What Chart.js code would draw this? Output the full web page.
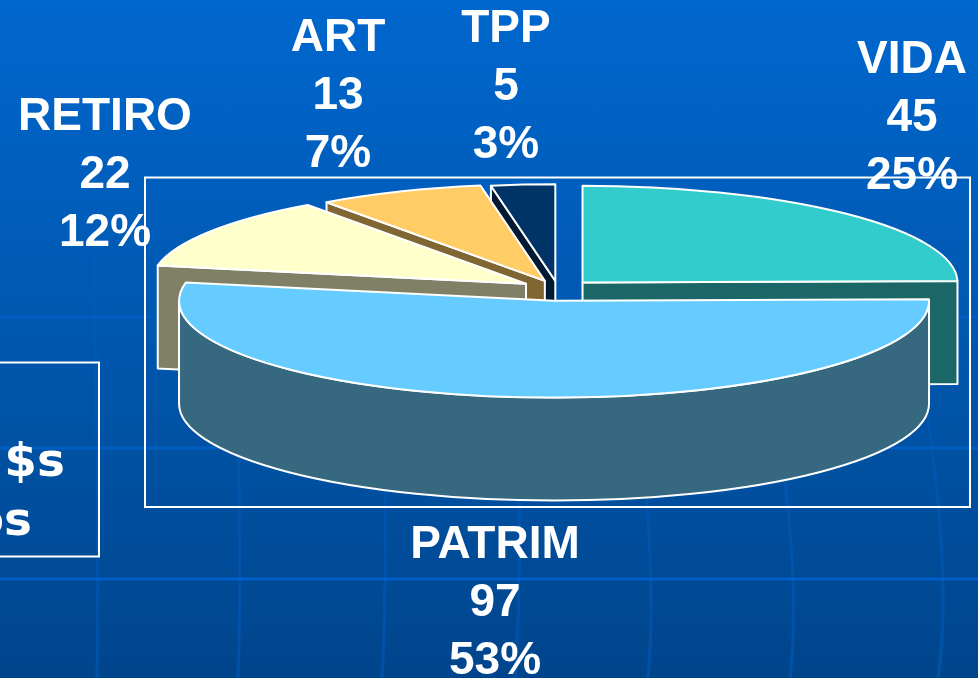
<!DOCTYPE html>
<html>
<head>
<meta charset="utf-8">
<style>
html, body { margin: 0; padding: 0; background: #0058b4; overflow: hidden; }
canvas { display: block; }
</style>
</head>
<body>
<canvas id="pieChart" width="978" height="678"></canvas>
<script src="https://cdn.jsdelivr.net/npm/chart.js@4"></script>
<script>
// datos del grafico
const categories = ['VIDA', 'PATRIM', 'RETIRO', 'ART', 'TPP'];
const values = [45, 97, 22, 13, 5];
const total = values.reduce((a, b) => a + b, 0);

// colores de cada porcion: cara superior y pared
const topColors = ['#33CCCC', '#66CCFF', '#FFFFCC', '#FFCC66', '#003366'];
const wallColors = ['#1B6666', '#366880', '#808066', '#806633', '#001A33'];
const explode = [35, 46, 38, 34, 31]; // separacion de cada porcion

// posicion de las etiquetas: centro x y linea base de la primera linea
const labelX = [912, 495, 105, 338, 506];
const labelY = [73, 558, 130, 51, 42];

const squash = 0.258;
const depth = 103;

const backdrop = {
    id: 'backdrop',
    beforeDraw(chart) {
        const c = chart.ctx;
        const g = c.createLinearGradient(0, 0, 0, 678);
        g.addColorStop(0, '#0067CE');
        g.addColorStop(0.5, '#0057AE');
        g.addColorStop(1, '#00458C');
        c.save();
        c.fillStyle = g;
        c.fillRect(0, 0, 978, 678);

        // lineas de la plantilla
        c.lineWidth = 3;
        c.strokeStyle = 'rgba(0,102,214,0.75)';
        [[187, 0.25], [317, 0.55], [448, 0.8], [579, 1]].forEach(([y, a]) => {
            c.globalAlpha = a;
            c.beginPath();
            c.moveTo(0, y);
            c.lineTo(978, y);
            c.stroke();
        });
        const v = c.createLinearGradient(0, 60, 0, 678);
        v.addColorStop(0, 'rgba(0,102,214,0)');
        v.addColorStop(1, 'rgba(0,102,214,0.38)');
        c.globalAlpha = 1;
        c.strokeStyle = v;
        [[90, 100, 97], [224, 245, 238], [372, 392, 382], [505, 528, 515],
         [585, 665, 648], [700, 812, 790], [850, 965, 938]].forEach(([x0, xm, x1]) => {
            c.beginPath();
            c.moveTo(x0, 40);
            c.quadraticCurveTo(xm, 500, x1, 678);
            c.stroke();
        });
        c.restore();

        // recuadro del grafico y recuadro lateral
        c.save();
        c.strokeStyle = '#fff';
        c.lineWidth = 2;
        c.strokeRect(145, 177.5, 825, 329.5);
        c.strokeRect(-5, 362.5, 104, 194);
        c.restore();
    }
};

function edgePoint(a, cx, cy, r) {
    return [cx + Math.cos(a) * r, cy + Math.sin(a) * r * squash];
}

function drawSlice(c, arc, i) {
    const a = arc.startAngle, b = arc.endAngle, r = arc.outerRadius;
    const mid = (a + b) / 2;
    const cx = arc.x + Math.cos(mid) * explode[i];
    const cy = arc.y + Math.sin(mid) * explode[i] * squash;

    c.lineWidth = 2;
    c.lineJoin = 'round';
    c.strokeStyle = '#fff';

    // paredes rectas que se ven de frente
    c.fillStyle = wallColors[i];
    const faces = [];
    if (Math.cos(a) < -1e-6) faces.push(a);
    if (Math.cos(b) > 1e-6) faces.push(b);
    faces.forEach(t => {
        const [x, y] = edgePoint(t, cx, cy, r);
        c.beginPath();
        c.moveTo(cx, cy);
        c.lineTo(x, y);
        c.lineTo(x, y + depth);
        c.lineTo(cx, cy + depth);
        c.closePath();
        c.fill();
        c.stroke();
    });

    // pared curva, solo la mitad de abajo
    const from = Math.max(a, 0), to = Math.min(b, Math.PI);
    if (from < to) {
        c.beginPath();
        c.ellipse(cx, cy, r, r * squash, 0, from, to);
        c.ellipse(cx, cy + depth, r, r * squash, 0, to, from, true);
        c.closePath();
        c.fill();
        c.stroke();
    }

    // cara superior
    c.fillStyle = topColors[i];
    c.beginPath();
    c.moveTo(cx, cy);
    c.ellipse(cx, cy, r, r * squash, 0, a, b);
    c.closePath();
    c.fill();
    c.stroke();
}

const pie3d = {
    id: 'pie3d',
    beforeDatasetsDraw(chart) {
        const arcs = chart.getDatasetMeta(0).data;
        // de atras hacia adelante
        [4, 3, 2, 0, 1].forEach(i => drawSlice(chart.ctx, arcs[i], i));
        return false;
    },
    afterDraw(chart) {
        const c = chart.ctx;
        c.save();
        c.fillStyle = '#fff';
        c.textAlign = 'center';
        c.textBaseline = 'alphabetic';
        c.font = 'bold 46px "Liberation Sans", Arial, sans-serif';
        categories.forEach((name, i) => {
            const pct = Math.round(values[i] / total * 100) + '%';
            [name, String(values[i]), pct].forEach((t, k) => {
                c.fillText(t, labelX[i], labelY[i] + k * 58);
            });
        });
        // texto del recuadro lateral, cortado por el borde
        c.textAlign = 'right';
        c.font = 'bold 47px "DejaVu Sans", sans-serif';
        c.fillText('$s', 65, 476);
        c.fillText('os', 32, 535);
        c.restore();
    }
};

const ctx = document.getElementById('pieChart').getContext('2d');
const chart = new Chart(ctx, {
    type: 'pie',
    data: {
        labels: categories,
        datasets: [{ data: values, backgroundColor: topColors, borderColor: '#fff' }]
    },
    options: {
        responsive: false,
        animation: false,
        radius: 375,
        layout: { padding: { left: 138, bottom: 100 } },
        plugins: {
            legend: { display: false },
            tooltip: { enabled: false }
        }
    },
    plugins: [backdrop, pie3d]
});
</script>
</body>
</html>
